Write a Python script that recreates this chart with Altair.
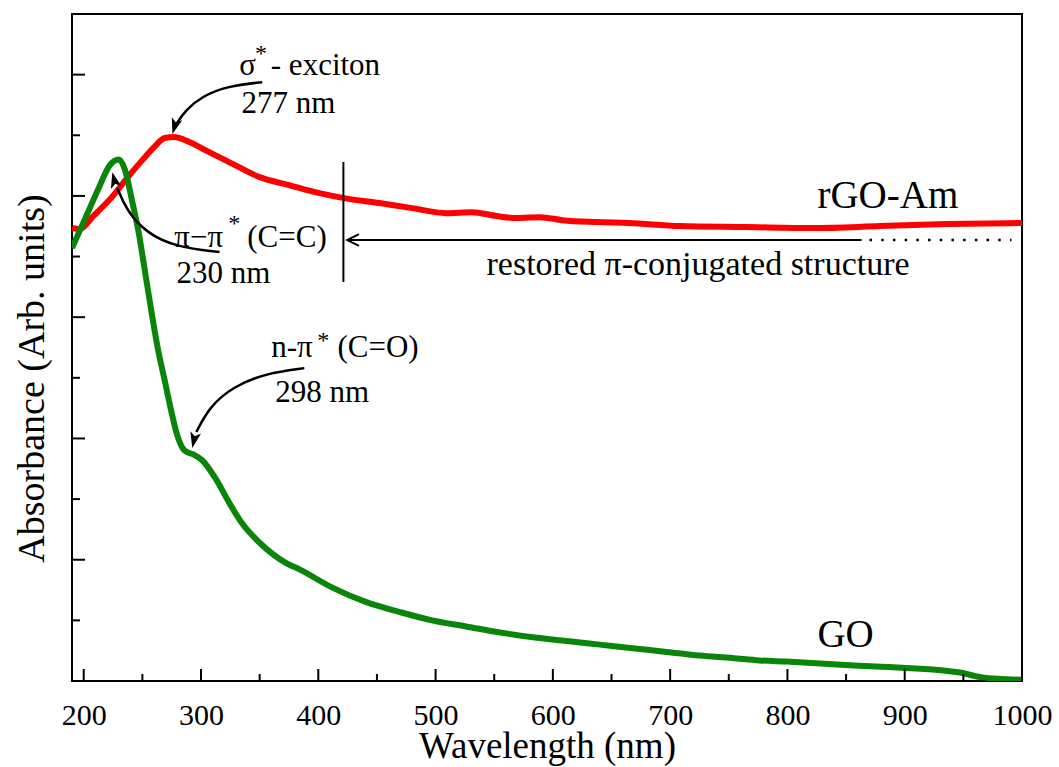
import altair as alt
import pandas as pd

FONT = "'Liberation Serif', 'Times New Roman', Times, 'DejaVu Serif', serif"
W, H = 950, 667

# ---------------- data ----------------
go_nm = [190, 202, 213, 222, 230, 235, 241, 247, 253, 258, 263, 269, 275, 279, 286, 293,
         301, 313, 324, 335, 350, 373, 384, 412, 441, 469, 497, 526, 555, 583, 612, 640,
         668, 697, 725, 753, 776, 799, 853, 898, 947, 966, 1000]
go_abs = [3.57, 3.83, 4.07, 4.25, 4.30, 4.22, 3.97, 3.69, 3.33, 3.03, 2.75, 2.48, 2.21, 2.05,
          1.90, 1.87, 1.82, 1.66, 1.47, 1.30, 1.14, 0.97, 0.92, 0.77, 0.65, 0.57, 0.50, 0.45,
          0.40, 0.36, 0.33, 0.30, 0.27, 0.24, 0.21, 0.19, 0.17, 0.16, 0.13, 0.11, 0.07, 0.03,
          0.01]

rgo_nm = [190, 196, 209, 224, 239, 250, 260, 269, 277, 290, 307, 324, 350, 375, 401, 422,
          452, 480, 509, 531, 552, 569, 589, 608, 637, 665, 708, 765, 822, 879, 936, 1000]
rgo_abs = [3.735, 3.726, 3.842, 3.990, 4.171, 4.295, 4.402, 4.477, 4.485, 4.444, 4.361, 4.279,
           4.155, 4.089, 4.023, 3.982, 3.941, 3.899, 3.858, 3.866, 3.834, 3.817, 3.825, 3.800,
           3.784, 3.776, 3.751, 3.743, 3.735, 3.751, 3.768, 3.776]

x_major = [200, 300, 400, 500, 600, 700, 800, 900, 1000]
x_minor = [250, 350, 450, 550, 650, 750, 850, 950]
y_major = [1, 2, 3, 4, 5]
y_minor = [0.5, 1.5, 2.5, 3.5, 4.5]

# annotation texts (position in data units)
ann_main = [
    ("σ", 332.7, 4.996),
    ("- exciton", 359.5, 4.996),
    ("277 nm", 334.6, 4.683),
    ("π−π", 277.2, 3.578),
    ("(C=C)", 339.4, 3.578),
    ("230 nm", 279.0, 3.281),
    ("n-π", 359.9, 2.671),
    ("(C=O)", 416.3, 2.671),
    ("298 nm", 363.3, 2.300),
]
ann_star = [("*", 346.0, 5.11), ("*", 323.3, 3.71), ("*", 399.1, 2.745)]
ann_label = [("rGO-Am", 825.6, 3.899), ("GO", 825.6, 0.280)]
ann_restored = [("restored π-conjugated structure", 543.4, 3.347)]

# curved arrows: shaft points and tip (x nm, y abs, angle)
arrow_shafts = {
    "sigma": [(352.2, 4.938), (322.5, 4.905), (301.2, 4.823), (286.7, 4.707), (279.0, 4.592)],
    "pipi": [(315.8, 3.537), (279.0, 3.578), (253.4, 3.693), (236.3, 3.883), (228.7, 4.064)],
    "npi": [(388.1, 2.580), (355.7, 2.539), (326.7, 2.424), (307.1, 2.259), (296.0, 2.053)],
}
arrow_tips = [(275.6, 4.510, 197), (224.4, 4.196, 346), (292.6, 1.921, 192)]

vline = [(421.4, 3.29, 4.28)]
harrow = [(424.7, 863.2, 3.636)]
hdots = [(870.0, 991.0, 3.636)]

# ---------------- chart ----------------
xs = alt.Scale(domain=[190, 1000], nice=False, zero=False)
ys = alt.Scale(domain=[0, 5.5], nice=False, zero=False)

x_axis = alt.Axis(values=x_major, format="d", labelFont=FONT, labelFontSize=30,
                  labelColor="black", labelPadding=19, labelFlush=False, labelOverlap=False,
                  ticks=False, tickSize=0,
                  domain=False, grid=False, title="Wavelength (nm)", titleFont=FONT,
                  titleFontSize=37, titleFontWeight="normal", titleColor="black",
                  titleY=76, titleBaseline="alphabetic")
y_axis = alt.Axis(labels=False, ticks=False, tickSize=0, domain=False, grid=False,
                  title="Absorbance (Arb. units)", titleFont=FONT, titleFontSize=38,
                  titleFontWeight="normal", titleColor="black", titleX=-29, titleY=364,
                  titleBaseline="alphabetic", titleAlign="center")


def X(f):
    return alt.X(f, scale=xs, axis=x_axis)


def Y(f):
    return alt.Y(f, scale=ys, axis=y_axis)


rgo = pd.DataFrame({"nm": rgo_nm, "a": rgo_abs})
go = pd.DataFrame({"nm": go_nm, "a": go_abs})

rgo_line = alt.Chart(rgo).mark_line(color="#ff0000", strokeWidth=6, clip=True,
                                    interpolate="monotone").encode(x=X("nm:Q"), y=Y("a:Q"))
go_line = alt.Chart(go).mark_line(color="#0a850a", strokeWidth=6, clip=True,
                                  interpolate="monotone").encode(x=X("nm:Q"), y=Y("a:Q"))

xmaj = alt.Chart(pd.DataFrame({"nm": x_major})).mark_rule(color="black", strokeWidth=2).encode(
    x=X("nm:Q"), y=alt.value(H), y2=alt.value(H - 12))
xmin = alt.Chart(pd.DataFrame({"nm": x_minor})).mark_rule(color="black", strokeWidth=2).encode(
    x=X("nm:Q"), y=alt.value(H), y2=alt.value(H - 7))
ymaj = alt.Chart(pd.DataFrame({"a": y_major})).mark_rule(color="black", strokeWidth=2).encode(
    y=Y("a:Q"), x=alt.value(0), x2=alt.value(13))
ymin = alt.Chart(pd.DataFrame({"a": y_minor})).mark_rule(color="black", strokeWidth=2).encode(
    y=Y("a:Q"), x=alt.value(0), x2=alt.value(8))


def text_layer(rows, size):
    df = pd.DataFrame(rows, columns=["t", "nm", "a"])
    return alt.Chart(df).mark_text(font=FONT, fontSize=size, align="left",
                                   baseline="alphabetic", color="black").encode(
        x=X("nm:Q"), y=Y("a:Q"), text="t:N")


t_main = text_layer(ann_main, 31)
t_star = text_layer(ann_star, 24)
t_label = text_layer(ann_label, 39)
t_rest = text_layer(ann_restored, 34)

shaft_rows = []
for name, pts in arrow_shafts.items():
    for k, (xn, ya) in enumerate(pts):
        shaft_rows.append({"id": name, "k": k, "nm": xn, "a": ya})
shafts = alt.Chart(pd.DataFrame(shaft_rows)).mark_line(
    color="black", strokeWidth=2.5, interpolate="basis").encode(
    x=X("nm:Q"), y=Y("a:Q"), detail="id:N", order="k:O")

ARROW = "M0,0L-0.55,1.6L0,1.2L0.55,1.6Z"
tips = alt.Chart(pd.DataFrame(arrow_tips, columns=["nm", "a", "ang"])).mark_point(
    shape=ARROW, filled=True, size=400, color="black", opacity=1, strokeWidth=0).encode(
    x=X("nm:Q"), y=Y("a:Q"), angle=alt.Angle("ang:Q", scale=None))

vl = alt.Chart(pd.DataFrame(vline, columns=["nm", "a", "a2"])).mark_rule(
    color="black", strokeWidth=2).encode(x=X("nm:Q"), y=Y("a:Q"), y2="a2:Q")
hl = alt.Chart(pd.DataFrame(harrow, columns=["nm", "nm2", "a"])).mark_rule(
    color="black", strokeWidth=2).encode(x=X("nm:Q"), x2="nm2:Q", y=Y("a:Q"))
hd = alt.Chart(pd.DataFrame(hdots, columns=["nm", "nm2", "a"])).mark_rule(
    color="black", strokeWidth=2.5, strokeDash=[2.5, 9.2]).encode(
    x=X("nm:Q"), x2="nm2:Q", y=Y("a:Q"))
hhead = alt.Chart(pd.DataFrame(harrow, columns=["nm", "nm2", "a"])).mark_point(
    shape="M1.3,-0.65L0,0L1.3,0.65", filled=False, size=324, color="black",
    strokeWidth=2, opacity=1).encode(x=X("nm:Q"), y=Y("a:Q"))

chart = alt.layer(
    rgo_line, go_line, xmaj, xmin, ymaj, ymin, vl, hl, hd, hhead,
    shafts, tips, t_main, t_star, t_label, t_rest
).properties(
    width=W, height=H,
    autosize=alt.AutoSizeParams(type="none"),
    padding={"left": 72, "top": 14, "right": 37, "bottom": 86},
    background="white",
).configure_view(stroke="black", strokeWidth=2)

chart.save("out.html", embed_options={"renderer": "svg", "actions": False})
